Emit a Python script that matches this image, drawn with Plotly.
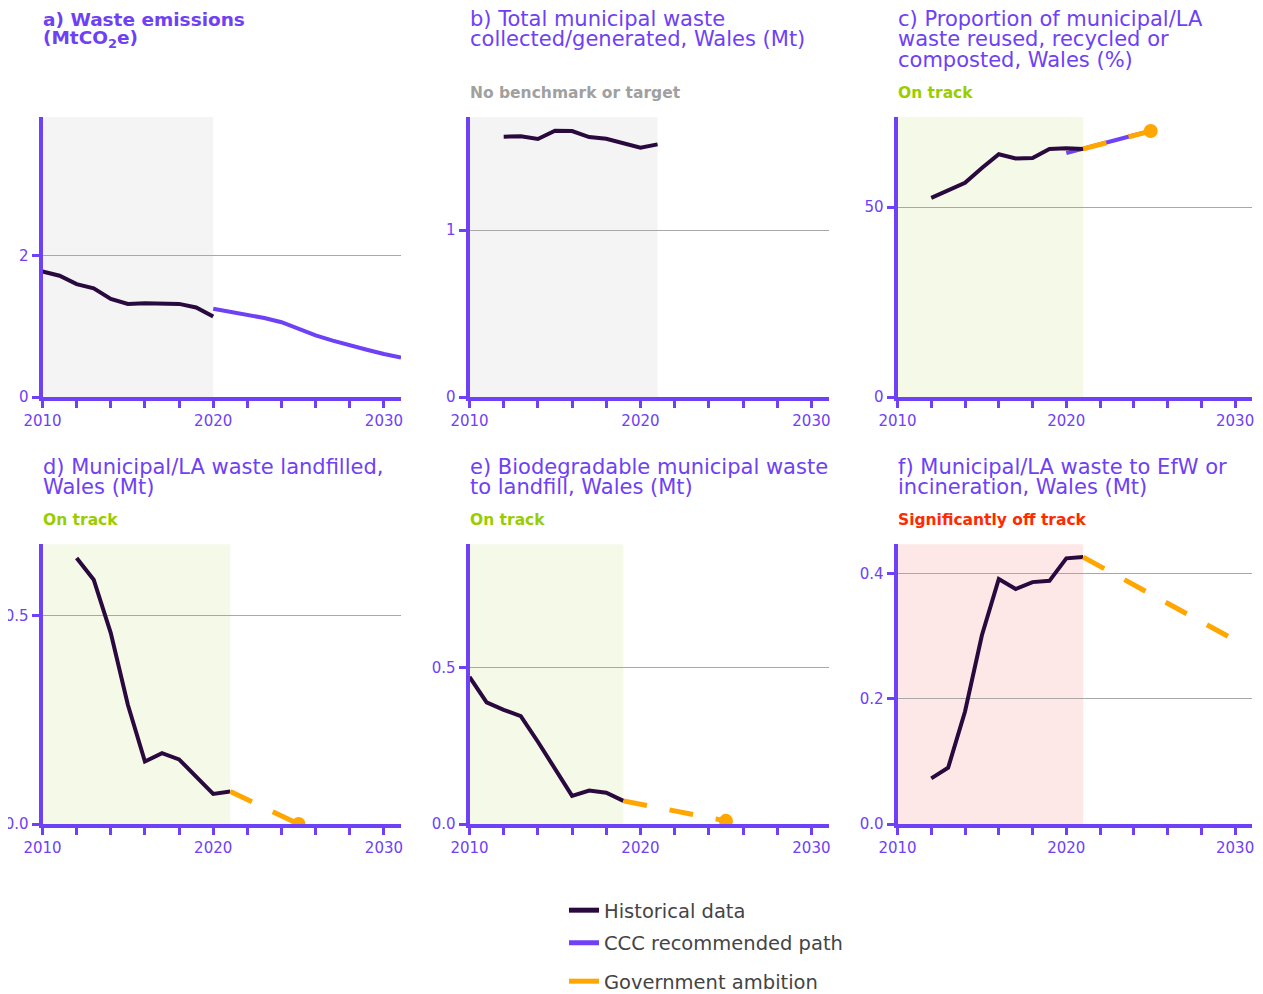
import plotly.graph_objects as go

# ---------------- data ----------------
# a) Waste emissions (MtCO2e)
a_hist_years = [2010, 2011, 2012, 2013, 2014, 2015, 2016, 2017, 2018, 2019, 2020]
a_hist = [1.78, 1.72, 1.60, 1.54, 1.39, 1.32, 1.33, 1.33, 1.32, 1.27, 1.14]
a_ccc_years = [2020, 2021, 2022, 2023, 2024, 2025, 2026, 2027, 2028, 2029, 2030, 2031]
a_ccc = [1.25, 1.21, 1.16, 1.12, 1.06, 0.96, 0.875, 0.80, 0.73, 0.67, 0.61, 0.56]

# b) Total municipal waste collected/generated (Mt)
b_hist_years = [2012, 2013, 2014, 2015, 2016, 2017, 2018, 2019, 2020, 2021]
b_hist = [1.559, 1.561, 1.545, 1.595, 1.593, 1.557, 1.547, 1.519, 1.493, 1.513]

# c) Proportion reused/recycled/composted (%)
c_hist_years = [2012, 2013, 2014, 2015, 2016, 2017, 2018, 2019, 2020, 2021]
c_hist = [52.4, 54.5, 56.4, 60.3, 63.9, 62.8, 62.9, 65.3, 65.5, 65.3]
c_ccc_years = [2020, 2021, 2022, 2023, 2024, 2025]
c_ccc = [64.2, 65.3, 66.5, 67.7, 68.9, 70.0]
c_gov_years = [2021, 2025]
c_gov = [65.3, 70.0]

# d) Municipal/LA waste landfilled (Mt)
d_hist_years = [2012, 2013, 2014, 2015, 2016, 2017, 2018, 2019, 2020, 2021]
d_hist = [0.638, 0.586, 0.458, 0.286, 0.150, 0.170, 0.155, 0.114, 0.072, 0.078]
d_gov_years = [2021, 2025]
d_gov = [0.078, 0.0]

# e) Biodegradable municipal waste to landfill (Mt)
e_hist_years = [2010, 2011, 2012, 2013, 2014, 2015, 2016, 2017, 2018, 2019]
e_hist = [0.470, 0.389, 0.365, 0.345, 0.263, 0.178, 0.090, 0.107, 0.100, 0.074]
e_gov_years = [2019, 2025]
e_gov = [0.074, 0.010]

# f) Municipal/LA waste to EfW or incineration (Mt)
f_hist_years = [2012, 2013, 2014, 2015, 2016, 2017, 2018, 2019, 2020, 2021]
f_hist = [0.073, 0.090, 0.180, 0.302, 0.392, 0.376, 0.387, 0.389, 0.425, 0.427]
f_gov_years = [2021, 2030]
f_gov = [0.427, 0.294]

x_tick_years = [2010, 2012, 2014, 2016, 2018, 2020, 2022, 2024, 2026, 2028, 2030]
x_tick_text = ["2010", " ", " ", " ", " ", "2020", " ", " ", " ", " ", "2030"]

legend_names = ["Historical data", "CCC recommended path", "Government ambition"]

# ---------------- styling ----------------
PAGE_W, PAGE_H = 1263, 994
BODY = 8  # default page body margin (figure starts at page x=8, y=8)
W, H = PAGE_W - BODY, PAGE_H - BODY
PURPLE = "#6E41F6"
DARK = "#2A0A3E"
ORANGE = "#FFA600"
GREEN_TXT = "#9ACD00"
RED_TXT = "#FF2A00"
GREY_TXT = "#A0A0A0"
SHADE_GREY = "#F4F4F4"
SHADE_GREEN = "#F4F9E8"
SHADE_RED = "#FDE8E7"
FONT = "DejaVu Sans"
DASH = "24px,23px"

cols = [(42.5, 401.0), (469.5, 828.5), (897.5, 1252.0)]
rows = [(117.0, 397.0), (544.3, 824.0)]


def fx(p):
    return min(1.0, max(0.0, (p - BODY) / W))


def fy(p):
    return min(1.0, max(0.0, 1 - (p - BODY) / H))


panels = [
    dict(col=0, row=0, yr=[0, 3.97], yt=[0, 2], ytt=["0", "2"], shade=2020, sc=SHADE_GREY,
         title=["<b>a) Waste emissions</b>", "<b>(MtCO<sub>2</sub>e)</b>"], bold=True, status=None),
    dict(col=1, row=0, yr=[0, 1.677], yt=[0, 1], ytt=["0", "1"], shade=2021, sc=SHADE_GREY,
         title=["b) Total municipal waste", "collected/generated, Wales (Mt)"], bold=False,
         status=("No benchmark or target", GREY_TXT)),
    dict(col=2, row=0, yr=[0, 73.7], yt=[0, 50], ytt=["0", "50"], shade=2021, sc=SHADE_GREEN,
         title=["c) Proportion of municipal/LA", "waste reused, recycled or", "composted, Wales (%)"],
         bold=False, status=("On track", GREEN_TXT)),
    dict(col=0, row=1, yr=[0, 0.671], yt=[0, 0.5], ytt=["0.0", "0.5"], shade=2021, sc=SHADE_GREEN,
         title=["d) Municipal/LA waste landfilled,", "Wales (Mt)"], bold=False,
         status=("On track", GREEN_TXT)),
    dict(col=1, row=1, yr=[0, 0.894], yt=[0, 0.5], ytt=["0.0", "0.5"], shade=2019, sc=SHADE_GREEN,
         title=["e) Biodegradable municipal waste", "to landfill, Wales (Mt)"], bold=False,
         status=("On track", GREEN_TXT)),
    dict(col=2, row=1, yr=[0, 0.4475], yt=[0, 0.2, 0.4], ytt=["0.0", "0.2", "0.4"], shade=2021,
         sc=SHADE_RED,
         title=["f) Municipal/LA waste to EfW or", "incineration, Wales (Mt)"], bold=False,
         status=("Significantly off track", RED_TXT)),
]

fig = go.Figure()
layout = dict(
    width=W, height=H,
    margin=dict(l=0, r=0, t=0, b=0, autoexpand=False),
    paper_bgcolor="white", plot_bgcolor="white",
    font=dict(family=FONT, color=PURPLE),
    annotations=[], shapes=[],
)

title_y = {0: [19.5, 39.5, 59.5], 1: [467.0, 487.0]}
status_y = {0: 93.0, 1: 519.5}

for i, p in enumerate(panels, start=1):
    x0, x1 = cols[p["col"]]
    y0, y1 = rows[p["row"]]
    xa = "xaxis" if i == 1 else f"xaxis{i}"
    ya = "yaxis" if i == 1 else f"yaxis{i}"
    xr = "x" if i == 1 else f"x{i}"
    yr = "y" if i == 1 else f"y{i}"
    layout[xa] = dict(
        domain=[fx(x0), fx(x1)], anchor=yr, range=[2010, 2031], automargin=False,
        showgrid=False, zeroline=False,
        showline=True, linecolor=PURPLE, linewidth=4,
        ticks="outside", ticklen=7, tickwidth=3, tickcolor=PURPLE,
        tickmode="array", tickvals=x_tick_years, ticktext=x_tick_text,
        tickfont=dict(family=FONT, size=15, color=PURPLE), ticklabeloverflow="allow",
        fixedrange=True,
    )
    layout[ya] = dict(
        domain=[fy(y1), fy(y0)], anchor=xr, range=p["yr"], automargin=False,
        showgrid=True, gridcolor="#A8A8A8", gridwidth=1, zeroline=False,
        showline=True, linecolor=PURPLE, linewidth=4,
        ticks="outside", ticklen=7, tickwidth=3, tickcolor=PURPLE,
        tickmode="array", tickvals=p["yt"], ticktext=p["ytt"],
        tickfont=dict(family=FONT, size=15, color=PURPLE), ticklabeloverflow="allow",
        fixedrange=True,
    )
    # shaded historical period
    layout["shapes"].append(dict(
        type="rect", xref=xr, yref=f"{yr} domain", x0=2010, x1=p["shade"], y0=0, y1=1,
        fillcolor=p["sc"], line=dict(width=0), layer="below",
    ))
    # titles
    ty = title_y[p["row"]]
    for k, line in enumerate(p["title"]):
        layout["annotations"].append(dict(
            xref="paper", yref="paper", x=fx(x0 - 2), y=fy(ty[k]),
            xanchor="left", yanchor="middle", showarrow=False, text=line,
            font=dict(family=FONT, size=18.5 if p["bold"] else 21, color=PURPLE),
        ))
    if p["status"]:
        layout["annotations"].append(dict(
            xref="paper", yref="paper", x=fx(x0 - 2), y=fy(status_y[p["row"]]),
            xanchor="left", yanchor="middle", showarrow=False,
            text=f"<b>{p['status'][0]}</b>",
            font=dict(family=FONT, size=15.5, color=p["status"][1]),
        ))

series = {
    1: dict(hist=(a_hist_years, a_hist), ccc=(a_ccc_years, a_ccc)),
    2: dict(hist=(b_hist_years, b_hist)),
    3: dict(hist=(c_hist_years, c_hist), ccc=(c_ccc_years, c_ccc), gov=(c_gov_years, c_gov), dot=True),
    4: dict(hist=(d_hist_years, d_hist), gov=(d_gov_years, d_gov), dot=True),
    5: dict(hist=(e_hist_years, e_hist), gov=(e_gov_years, e_gov), dot=True),
    6: dict(hist=(f_hist_years, f_hist), gov=(f_gov_years, f_gov), dot=False),
}

for i, s in series.items():
    xr = "x" if i == 1 else f"x{i}"
    yr = "y" if i == 1 else f"y{i}"
    if "ccc" in s:
        fig.add_trace(go.Scatter(x=s["ccc"][0], y=s["ccc"][1], mode="lines", xaxis=xr, yaxis=yr,
                                 line=dict(color=PURPLE, width=4), showlegend=False, hoverinfo="skip"))
    fig.add_trace(go.Scatter(x=s["hist"][0], y=s["hist"][1], mode="lines", xaxis=xr, yaxis=yr,
                             line=dict(color=DARK, width=4), showlegend=False, hoverinfo="skip"))
    if "gov" in s:
        fig.add_trace(go.Scatter(x=s["gov"][0], y=s["gov"][1], mode="lines", xaxis=xr, yaxis=yr,
                                 line=dict(color=ORANGE, width=5, dash=DASH), showlegend=False,
                                 hoverinfo="skip"))
        if s.get("dot"):
            fig.add_trace(go.Scatter(x=[s["gov"][0][-1]], y=[s["gov"][1][-1]], mode="markers",
                                     xaxis=xr, yaxis=yr, marker=dict(color=ORANGE, size=14),
                                     showlegend=False, hoverinfo="skip"))

# legend entries (three separately placed legends)
leg_colors = [DARK, PURPLE, ORANGE]
leg_ids = ["legend", "legend2", "legend3"]
leg_y = [910.5, 943.0, 981.5]
for name, col, lid, ly in zip(legend_names, leg_colors, leg_ids, leg_y):
    fig.add_trace(go.Scatter(x=[None], y=[None], mode="lines", name=name,
                             line=dict(color=col, width=5), legend=lid, showlegend=True))
    layout[lid] = dict(
        x=fx(564), y=fy(ly), xanchor="left", yanchor="middle",
        bgcolor="rgba(0,0,0,0)", borderwidth=0,
        font=dict(family=FONT, size=19.5, color="#444444"),
    )

fig.update_layout(**layout)
fig.write_html("out.html")
